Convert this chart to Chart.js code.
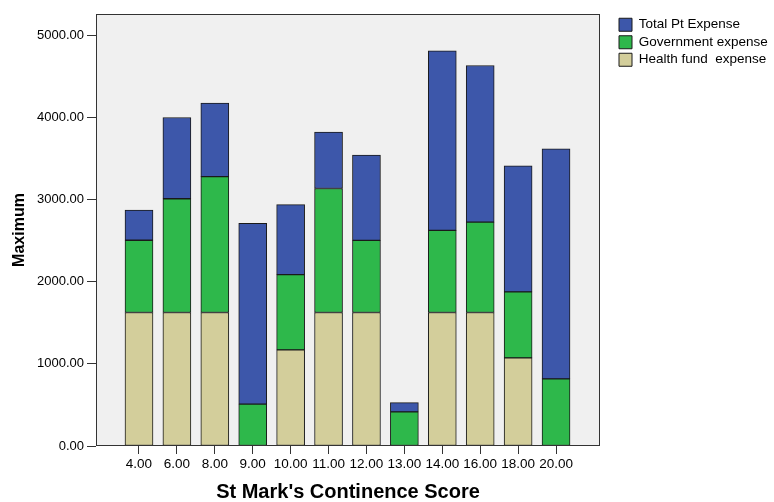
<!DOCTYPE html>
<html>
<head>
<meta charset="utf-8">
<script src="https://cdn.jsdelivr.net/npm/chart.js@4/dist/chart.umd.min.js"></script>
<style>
  html, body { margin: 0; padding: 0; background: #fff; }
  #box { width: 774px; height: 502px; }
</style>
</head>
<body>
<div id="box"><canvas id="maxChart" width="774" height="502"></canvas></div>
<script>
// St Mark's score categories and stacked segment heights
const categories = ['4.00', '6.00', '8.00', '9.00', '10.00', '11.00', '12.00', '13.00', '14.00', '16.00', '18.00', '20.00'];
const healthFund = [1625, 1625, 1625, null, 1170, 1625, 1625, null, 1625, 1625, 1073, null];
const government = [880, 1386, 1655, 509, 916, 1510, 879, 416, 1000, 1100, 803, 817];
const totalPt = [368, 989, 895, 2201, 852, 687, 1038, 113, 2186, 1908, 1536, 2802];
const yTicks = [0, 1000, 2000, 3000, 4000, 5000];

const toPoints = (arr) => arr.map((v, i) => ({ x: i, y: v }));

// plot frame: grey fill + dark border around the chart area
const framePlugin = {
    id: 'frame',
    beforeDatasetsDraw(chart) {
        const { ctx, chartArea: a } = chart;
        ctx.save();
        ctx.fillStyle = '#f0f0f0';
        ctx.fillRect(a.left, a.top, a.right - a.left, a.bottom - a.top);
        ctx.restore();
    },
    afterDatasetsDraw(chart) {
        const { ctx, chartArea: a } = chart;
        ctx.save();
        ctx.strokeStyle = '#333';
        ctx.lineWidth = 1;
        ctx.strokeRect(Math.round(a.left) + 0.5, Math.round(a.top) + 0.5,
            Math.round(a.right - a.left) - 1, Math.round(a.bottom - a.top) - 1);
        ctx.restore();
    }
};

Chart.defaults.font.family = '"Liberation Sans", Arial, sans-serif';
Chart.defaults.color = '#000';

const barStyle = {
    borderColor: '#1a1a1a',
    borderWidth: 1,
    borderSkipped: false,
    barThickness: 28
};

new Chart(document.getElementById('maxChart'), {
    type: 'bar',
    data: {
        datasets: [{
            label: 'Health fund  expense',
            data: toPoints(healthFund),
            backgroundColor: '#d3ce9b',
            ...barStyle
        }, {
            label: 'Government expense',
            data: toPoints(government),
            backgroundColor: '#2eb84b',
            ...barStyle
        }, {
            label: 'Total Pt Expense',
            data: toPoints(totalPt),
            backgroundColor: '#3d57aa',
            ...barStyle
        }]
    },
    options: {
        responsive: false,
        animation: false,
        devicePixelRatio: 1,
        layout: {
            padding: { top: 14, left: 10, right: 4, bottom: 0 }
        },
        plugins: {
            tooltip: { enabled: false },
            legend: {
                position: 'right',
                align: 'start',
                reverse: true,
                maxWidth: 155,
                labels: {
                    boxWidth: 13,
                    boxHeight: 13,
                    padding: 4,
                    color: '#000',
                    font: { size: 13.5 }
                }
            }
        },
        scales: {
            x: {
                type: 'linear',
                stacked: true,
                offset: false,
                min: -1.134,
                max: 12.16,
                afterBuildTicks: (scale) => {
                    scale.ticks = categories.map((c, i) => ({ value: i }));
                },
                afterFit: (scale) => { scale.height = 56; },
                border: { display: false },
                grid: {
                    offset: false,
                    drawOnChartArea: false,
                    drawTicks: true,
                    tickLength: 8,
                    color: '#333'
                },
                ticks: {
                    autoSkip: false,
                    maxRotation: 0,
                    padding: 2,
                    font: { size: 13.5 },
                    callback: (value) => categories[value]
                },
                title: {
                    display: true,
                    text: "St Mark's Continence Score",
                    font: { size: 20, weight: 'bold', lineHeight: 1 },
                    padding: { top: 0, bottom: 0 }
                }
            },
            y: {
                stacked: true,
                min: 0,
                max: 5260,
                afterBuildTicks: (scale) => {
                    scale.ticks = yTicks.map((v) => ({ value: v }));
                },
                afterFit: (scale) => { scale.width = 86; },
                border: { display: false },
                grid: {
                    drawOnChartArea: false,
                    drawTicks: true,
                    tickLength: 9,
                    color: '#333'
                },
                ticks: {
                    padding: 3,
                    font: { size: 13 },
                    callback: (value) => value.toFixed(2)
                },
                title: {
                    display: true,
                    text: 'Maximum',
                    font: { size: 16, weight: 'bold' },
                    padding: 0
                }
            },
            // hidden spacer so the legend sits a little away from the frame
            gap: {
                type: 'linear',
                position: 'right',
                display: false,
                afterFit: (scale) => { scale.width = 15; }
            }
        }
    },
    plugins: [framePlugin]
});
</script>
</body>
</html>
